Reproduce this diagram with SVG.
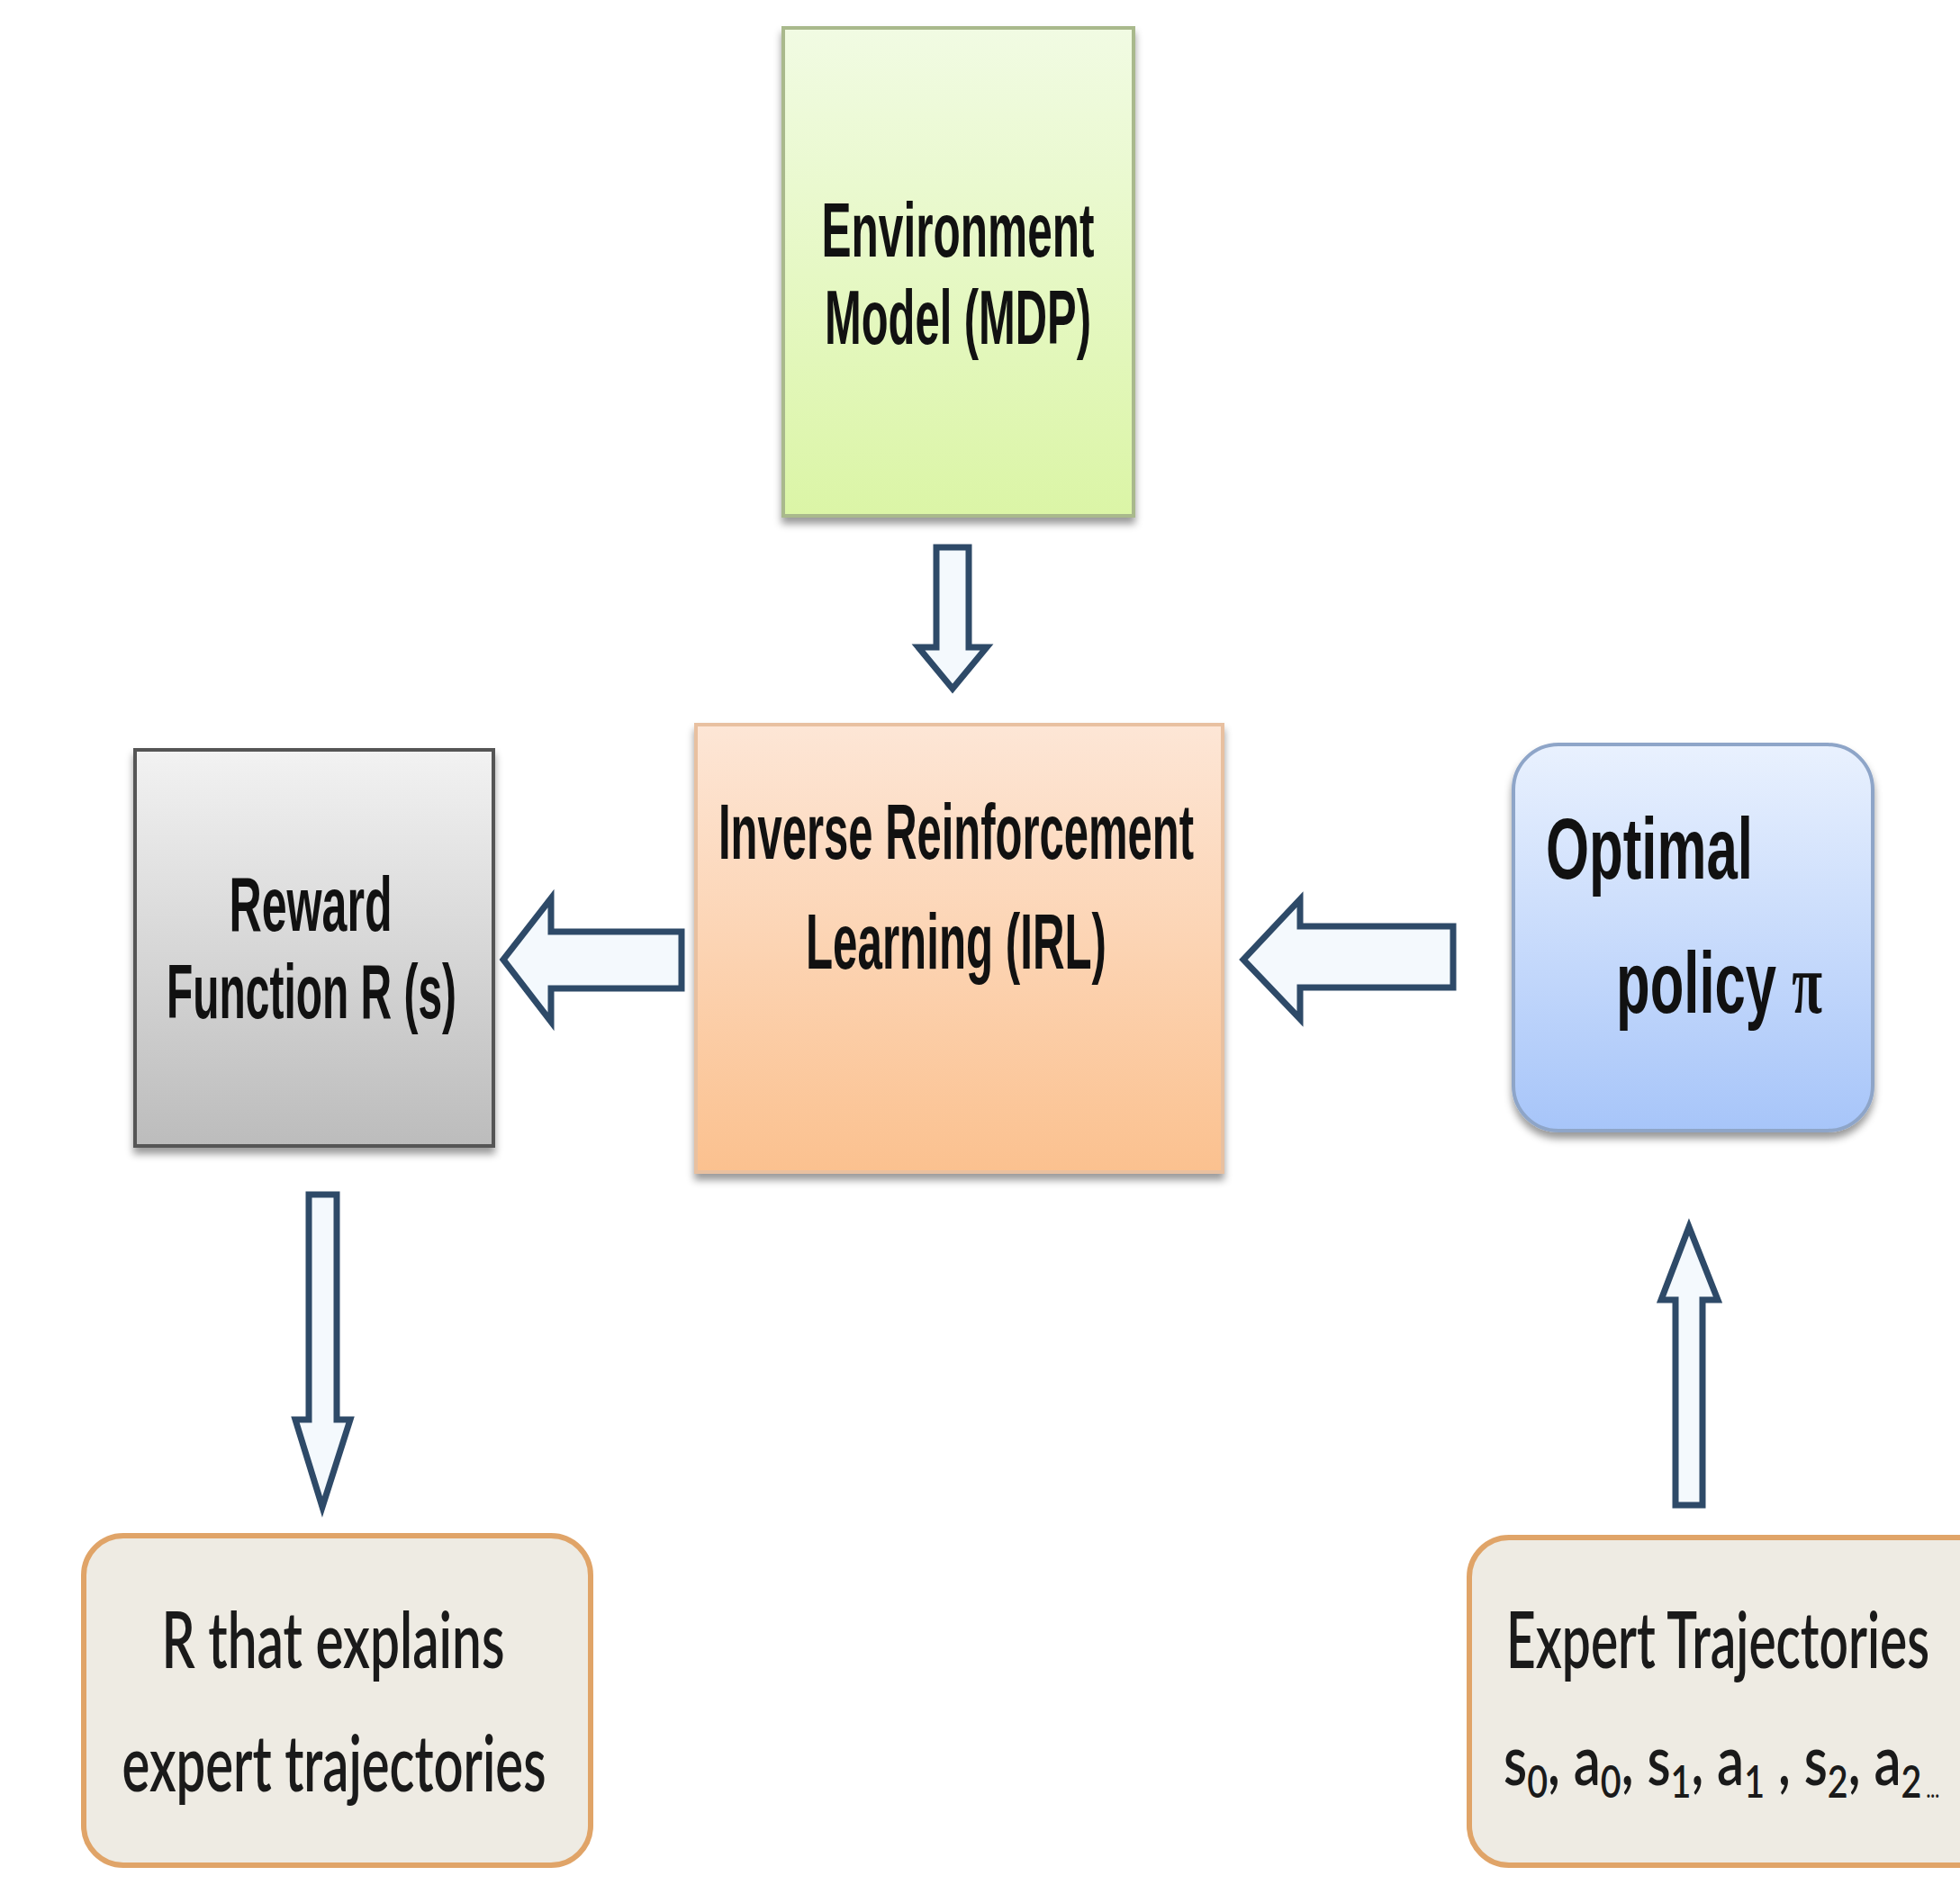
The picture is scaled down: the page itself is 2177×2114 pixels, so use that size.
<svg xmlns="http://www.w3.org/2000/svg" width="2177" height="2114" viewBox="0 0 2177 2114">
<defs>
<linearGradient id="gGreen" x1="0" y1="0" x2="0" y2="1"><stop offset="0" stop-color="#f1fbe3"/><stop offset="1" stop-color="#dbf5a6"/></linearGradient>
<linearGradient id="gPeach" x1="0" y1="0" x2="0" y2="1"><stop offset="0" stop-color="#fde6d6"/><stop offset="1" stop-color="#fbc18f"/></linearGradient>
<linearGradient id="gGray" x1="0" y1="0" x2="0" y2="1"><stop offset="0" stop-color="#f2f2f2"/><stop offset="1" stop-color="#bcbcbc"/></linearGradient>
<linearGradient id="gBlue" x1="0" y1="0" x2="0" y2="1"><stop offset="0" stop-color="#e9f1fe"/><stop offset="1" stop-color="#a7c5f9"/></linearGradient>
<filter id="sh" x="-10%" y="-10%" width="120%" height="125%"><feDropShadow dx="0" dy="7" stdDeviation="4" flood-color="#000" flood-opacity="0.4"/></filter>
<style>
.arrow{fill:#f4f9fd;stroke:#2e4a68;stroke-width:7;stroke-linejoin:miter}
.t1{font-family:"Liberation Sans",Arial,sans-serif;font-weight:bold;fill:#111}
.t2{font-family:Lato,"Open Sans",sans-serif;font-weight:600;fill:#1a1a1a}
.soft{fill:#eeebe3;stroke:#e0a468;stroke-width:6}
</style>
</defs>
<rect width="2177" height="2114" fill="#fff"/>

<g id="connectors">
<polygon class="arrow" points="1040,608 1076,608 1076,719 1096,719 1058,765 1020,719 1040,719"/>
<polygon class="arrow" points="757,1035 757,1098 612,1098 612,1135 559,1066 612,998 612,1035"/>
<polygon class="arrow" points="1614,1029 1614,1097 1444,1097 1444,1132 1381,1066 1444,999 1444,1029"/>
<polygon class="arrow" points="343,1327 374,1327 374,1577 389,1577 358,1674 328,1577 343,1577"/>
<polygon class="arrow" points="1861,1672 1891,1672 1891,1444 1908,1444 1876,1363 1845,1444 1861,1444"/>
</g>

<g id="env">
<rect x="870" y="31" width="389" height="542" fill="url(#gGreen)" stroke="#a9b98c" stroke-width="4" filter="url(#sh)"/>
<text class="t1" x="1064" y="285" font-size="86" text-anchor="middle" textLength="303" lengthAdjust="spacingAndGlyphs">Environment</text>
<text class="t1" x="1064" y="382" font-size="86" text-anchor="middle" textLength="296" lengthAdjust="spacingAndGlyphs">Model (MDP)</text>
</g>

<g id="irl">
<rect x="773" y="805" width="585" height="497" fill="url(#gPeach)" stroke="#e8c0a0" stroke-width="4" filter="url(#sh)"/>
<text class="t1" x="1062" y="954" font-size="88" text-anchor="middle" textLength="528" lengthAdjust="spacingAndGlyphs">Inverse Reinforcement</text>
<text class="t1" x="1062" y="1076" font-size="88" text-anchor="middle" textLength="334" lengthAdjust="spacingAndGlyphs">Learning (IRL)</text>
</g>

<g id="reward">
<rect x="150" y="833" width="398" height="440" fill="url(#gGray)" stroke="#555" stroke-width="4" filter="url(#sh)"/>
<text class="t1" x="345" y="1034" font-size="86" text-anchor="middle" textLength="181" lengthAdjust="spacingAndGlyphs">Reward</text>
<text class="t1" x="346" y="1131" font-size="86" text-anchor="middle" textLength="322" lengthAdjust="spacingAndGlyphs">Function R (s)</text>
</g>

<g id="optimal">
<rect x="1681" y="827" width="399" height="429" rx="50" ry="50" fill="url(#gBlue)" stroke="#8ea5c8" stroke-width="4" filter="url(#sh)"/>
<text class="t1" x="1717" y="976" font-size="96" textLength="230" lengthAdjust="spacingAndGlyphs">Optimal</text>
<text class="t1" x="1795" y="1125" font-size="96" textLength="229" lengthAdjust="spacingAndGlyphs">policy <tspan font-family="'Liberation Serif',serif" font-weight="bold">π</tspan></text>
</g>

<g id="rbox">
<rect x="93" y="1706" width="563" height="366" rx="44" ry="44" class="soft"/>
<text class="t2" x="370" y="1853" font-size="86" text-anchor="middle" textLength="381" lengthAdjust="spacingAndGlyphs">R that explains</text>
<text class="t2" x="371" y="1990" font-size="86" text-anchor="middle" textLength="471" lengthAdjust="spacingAndGlyphs">expert trajectories</text>
</g>

<g id="expert">
<rect x="1632" y="1708" width="600" height="364" rx="44" ry="44" class="soft"/>
<text class="t2" x="1673" y="1853" font-size="86" textLength="470" lengthAdjust="spacingAndGlyphs">Expert Trajectories</text>
<text class="t2" x="1670" y="1983" font-size="76" textLength="484" lengthAdjust="spacingAndGlyphs">s<tspan font-size="50" dy="14">0</tspan><tspan dy="-14">, a</tspan><tspan font-size="50" dy="14">0</tspan><tspan dy="-14">, s</tspan><tspan font-size="50" dy="14">1</tspan><tspan dy="-14">, a</tspan><tspan font-size="50" dy="14">1</tspan><tspan dy="-14"> , s</tspan><tspan font-size="50" dy="14">2</tspan><tspan dy="-14">, a</tspan><tspan font-size="50" dy="14">2</tspan><tspan font-size="26"> ...</tspan></text>
</g>
</svg>
